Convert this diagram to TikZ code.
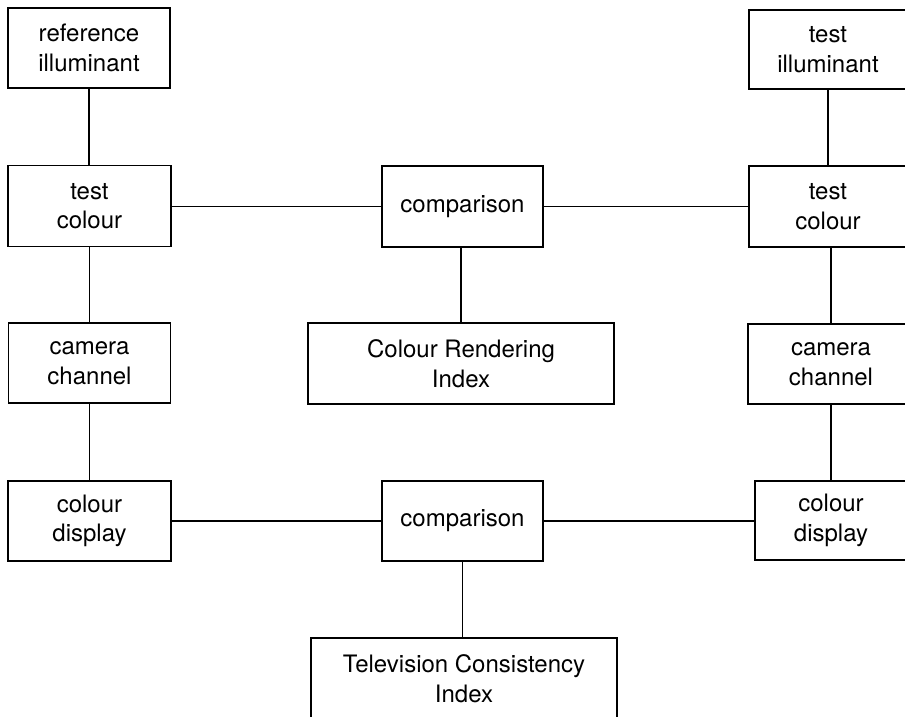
\documentclass[tikz,border=0pt]{standalone}
\usepackage{fontspec}
\setmainfont{TeX Gyre Heros}
\begin{document}
\begin{tikzpicture}[x=1pt,y=-1pt,
  box/.style={draw, line width=1.7pt, inner sep=0pt, align=center,
    font=\fontsize{24}{29.5}\selectfont, minimum height=81pt},
  conn/.style={line width=1.7pt}]
\useasboundingbox (0,0) rectangle (905,717);
% left column
\node[box, minimum width=162pt, minimum height=80pt] (ri) at (89,48) {reference\\illuminant};
\node[box, minimum width=163pt] (tca) at (89.5,206) {test\\colour};
\node[box, minimum width=162pt, minimum height=80pt] (cca) at (89.5,363) {camera\\channel};
\node[box, minimum width=163pt, minimum height=80pt] (cda) at (89.5,521) {colour\\display};
% right column
\node[box, minimum width=158pt, minimum height=79pt] (ti) at (828,49.5) {test\\illuminant};
\node[box, minimum width=158pt] (tcb) at (828,206.5) {test\\colour};
\node[box, minimum width=166pt, minimum height=80pt] (ccb) at (831,364) {camera\\channel};
\node[box, minimum width=152pt, minimum height=79pt] (cdb) at (831,520.5) {colour\\display};
% middle column
\node[box, minimum width=161pt] (cmpa) at (462.5,206.5) {comparison};
\node[box, minimum width=306pt] (cri) at (461,363.5) {Colour Rendering\\Index};
\node[box, minimum width=161pt, minimum height=80pt] (cmpb) at (462.5,521) {comparison};
\node[box, minimum width=306pt] (tci) at (464,678.5) {Television Consistency\\Index};
% connectors
\draw[conn] (ri.south) -- (ri.south |- tca.north);
\draw[conn] (tca.south) -- (tca.south |- cca.north);
\draw[conn] (cca.south) -- (cca.south |- cda.north);
\draw[conn] (ti.south) -- (ti.south |- tcb.north);
\draw[conn] (ccb.north |- tcb.south) -- (ccb.north);
\draw[conn] (ccb.south) -- (ccb.south |- cdb.north);
\draw[conn] (cmpa.west -| tca.east) -- (cmpa.west);
\draw[conn] (cmpa.east) -- (tcb.west);
\draw[conn] (cmpa.south -| cri.north) -- (cri.north);
\draw[conn] (cda.east) -- (cmpb.west);
\draw[conn] (cmpb.east) -- (cmpb.east -| cdb.west);
\draw[conn] (cmpb.south) -- (cmpb.south |- tci.north);
\end{tikzpicture}
\end{document}
